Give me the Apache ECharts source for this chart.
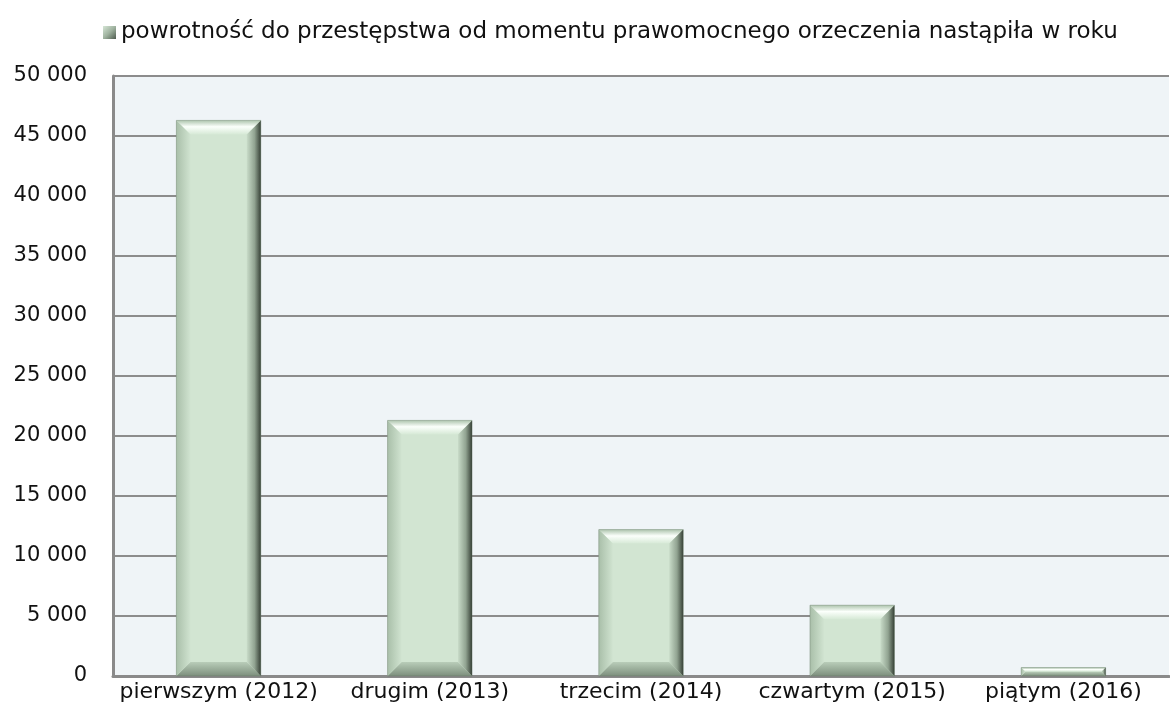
<!DOCTYPE html>
<html>
<head>
<meta charset="utf-8">
<script src="https://cdn.jsdelivr.net/npm/echarts@6/dist/echarts.min.js"></script>
<style>
  html, body { margin: 0; padding: 0; background: #fff; }
  #main { width: 1170px; height: 727px; }
</style>
</head>
<body>
<div id="main"></div>
<script>
var categories = ['pierwszym (2012)', 'drugim (2013)', 'trzecim (2014)', 'czwartym (2015)', 'piątym (2016)'];
var values = [46300, 21300, 12200, 5900, 700];
var seriesName = 'powrotność do przestępstwa od momentu prawomocnego orzeczenia nastąpiła w roku';

var FONT = '"DejaVu Sans", "Open Sans", sans-serif';

function lg(x, y, x2, y2, stops) {
    return new echarts.graphic.LinearGradient(x, y, x2, y2, stops.map(function (s) {
        return { offset: s[0], color: s[1] };
    }));
}

// beveled bar like the old Excel chart style
var renderBar = function (params, api) {
    var idx = api.value(0), v = api.value(1);
    var top = api.coord([idx, v]);
    var base = api.coord([idx, 0]);
    var w = api.size([1, 0])[0] * 0.4;
    var x0 = top[0] - w / 2, x1 = top[0] + w / 2;
    var y0 = top[1], y1 = base[1];
    var b = Math.min(14, (y1 - y0) / 2, w / 2);
    var kids = [];
    kids.push({ type: 'rect', shape: { x: x0, y: y0, width: x1 - x0, height: y1 - y0 },
        style: { fill: '#d2e5d2' } });
    // top
    kids.push({ type: 'polygon', shape: { points: [[x0, y0], [x1, y0], [x1 - b, y0 + b], [x0 + b, y0 + b]] },
        style: { fill: lg(0, 0, 0, 1, [[0, '#aec5ae'], [0.45, '#fbfffb'], [1, '#d6e9d6']]) } });
    // bottom
    kids.push({ type: 'polygon', shape: { points: [[x0, y1], [x1, y1], [x1 - b, y1 - b], [x0 + b, y1 - b]] },
        style: { fill: lg(0, 1, 0, 0, [[0, '#7d8f7d'], [1, '#b9cdb9']]) } });
    // left
    kids.push({ type: 'polygon', shape: { points: [[x0, y0], [x0 + b, y0 + b], [x0 + b, y1 - b], [x0, y1]] },
        style: { fill: lg(0, 0, 1, 0, [[0, '#a9bfa9'], [1, '#d0e3d0']]) } });
    // right
    kids.push({ type: 'polygon', shape: { points: [[x1, y0], [x1, y1], [x1 - b, y1 - b], [x1 - b, y0 + b]] },
        style: { fill: lg(0, 0, 1, 0, [[0, '#c8dbc8'], [0.55, '#91a391'], [1, '#364036']]) } });
    kids.push({ type: 'rect', shape: { x: x0, y: y0, width: x1 - x0, height: y1 - y0 },
        style: { fill: null, stroke: 'rgba(90,105,90,0.35)', lineWidth: 1 } });
    return { type: 'group', children: kids };
};

var chart = echarts.init(document.getElementById('main'));
chart.setOption({
    animation: false,
    legend: {
        data: [seriesName],
        top: 16,
        left: 98,
        itemWidth: 13,
        itemHeight: 13,
        itemGap: 6,
        icon: 'rect',
        textStyle: { fontFamily: FONT, fontSize: 23, color: '#111' },
        itemStyle: { color: lg(0, 0, 1, 1, [[0, '#d6e6d6'], [0.5, '#9fb29f'], [1, '#4f5c4f']]) }
    },
    grid: { left: 113, right: 1, top: 76, bottom: 51, show: true,
        backgroundColor: '#eff4f7', borderWidth: 0 },
    xAxis: {
        type: 'category',
        data: categories,
        axisLine: { show: true, lineStyle: { color: '#8a8a8a', width: 3 } },
        axisTick: { show: false },
        axisLabel: { fontFamily: FONT, fontSize: 22, color: '#111', margin: 5, interval: 0 }
    },
    yAxis: {
        type: 'value',
        min: 0, max: 50000, interval: 5000,
        axisLine: { show: true, lineStyle: { color: '#8a8a8a', width: 3 } },
        axisTick: { show: false },
        splitLine: { show: true, lineStyle: { color: '#8c8c8c', width: 2 } },
        axisLabel: {
            fontFamily: FONT, fontSize: 21, color: '#111', margin: 26,
            formatter: function (v) { return String(v).replace(/\B(?=(\d{3})+(?!\d))/g, ' '); }
        }
    },
    series: [{
        name: seriesName,
        type: 'custom',
        renderItem: renderBar,
        encode: { x: 0, y: 1 },
        data: values.map(function (v, i) { return [i, v]; })
    }]
});
</script>
</body>
</html>
